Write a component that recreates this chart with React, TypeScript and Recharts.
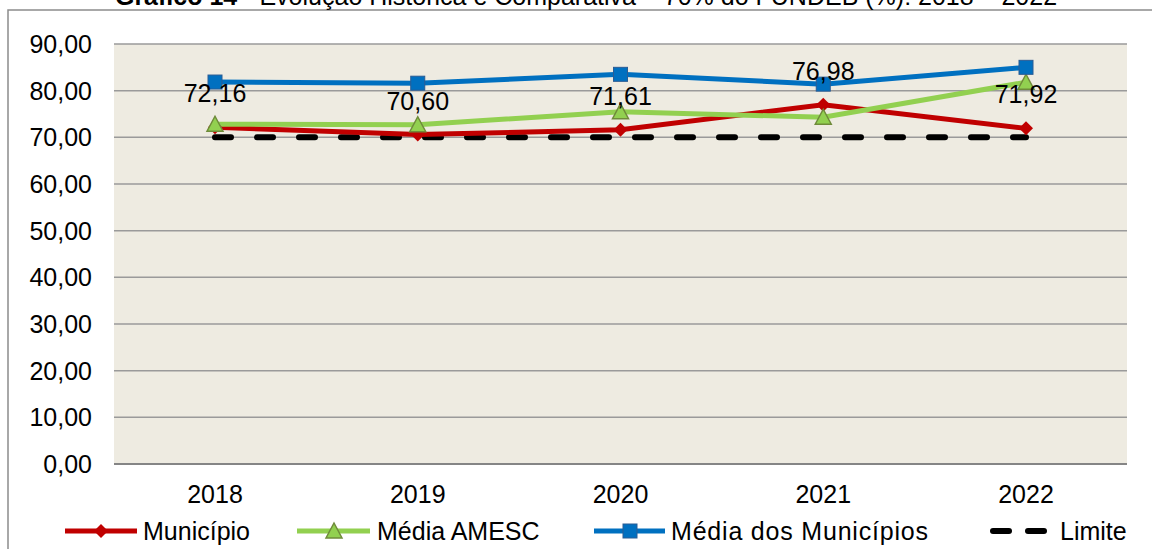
import { LineChart, Line, XAxis, YAxis, CartesianGrid, LabelList } from 'recharts';

const years = ['2018', '2019', '2020', '2021', '2022'];
const municipio = [72.16, 70.6, 71.61, 76.98, 71.92];
const mediaAmesc = [72.8, 72.7, 75.5, 74.3, 81.8];
const mediaMunicipios = [81.85, 81.6, 83.5, 81.4, 85.0];
const limite = [70, 70, 70, 70, 70];
const yTicks = [0, 10, 20, 30, 40, 50, 60, 70, 80, 90];

const data = years.map((year, i) => ({
  year,
  municipio: municipio[i],
  mediaAmesc: mediaAmesc[i],
  mediaMunicipios: mediaMunicipios[i],
  limite: limite[i]
}));

const FONT = '"Liberation Sans", Arial, sans-serif';
const RED = '#C00000';
const GREEN = '#92D050';
const GREEN_EDGE = '#6F8B3A';
const BLUE = '#0070C0';
const BLUE_EDGE = '#2A5C94';

const fmt = (v: number) => v.toFixed(2).replace('.', ',');

const Diamond = ({ cx, cy }: any) => (
  <path d={`M${cx},${cy - 7} L${cx + 7},${cy} L${cx},${cy + 7} L${cx - 7},${cy} Z`} fill={RED} />
);

const Triangle = ({ cx, cy }: any) => (
  <path
    d={`M${cx},${cy - 8} L${cx + 8},${cy + 7} L${cx - 8},${cy + 7} Z`}
    fill={GREEN}
    stroke={GREEN_EDGE}
    strokeWidth={1.5}
  />
);

const Square = ({ cx, cy }: any) => (
  <rect x={cx - 7} y={cy - 7} width={14} height={14} fill={BLUE} stroke={BLUE_EDGE} strokeWidth={1} />
);

const ValueLabel = ({ x, y, value }: any) => (
  <text x={x} y={y - 25} textAnchor="middle" fontSize={25} fontFamily={FONT} fill="#000">
    {fmt(value)}
  </text>
);

// frame, title (cut at the top as in the source) and legend
const Overlay = () => (
  <svg width={1152} height={549} style={{ position: 'absolute', left: 0, top: 0, pointerEvents: 'none' }}>
    <rect x={8} y={10} width={1150} height={560} fill="none" stroke="#8c8c8c" strokeWidth={1.5} />
    <text x={586} y={5} textAnchor="middle" fontSize={25} fontFamily={FONT} fill="#000">
      <tspan fontWeight="bold">Gráfico 14</tspan>
      <tspan> - Evolução Histórica e Comparativa – 70% do FUNDEB (%): 2018 – 2022</tspan>
    </text>
    <g fontSize={25} fontFamily={FONT} fill="#000">
      <line x1={65} y1={531} x2={137} y2={531} stroke={RED} strokeWidth={5} />
      <Diamond cx={101} cy={531} />
      <text x={143} y={540}>Município</text>

      <line x1={297} y1={531} x2={370} y2={531} stroke={GREEN} strokeWidth={5} />
      <Triangle cx={334} cy={531} />
      <text x={377} y={540}>Média AMESC</text>

      <line x1={594} y1={531} x2={665} y2={531} stroke={BLUE} strokeWidth={5} />
      <Square cx={630} cy={531} />
      <text x={671} y={540} textLength={257}>Média dos Municípios</text>

      <line x1={993} y1={531} x2={1009} y2={531} stroke="#000" strokeWidth={6} strokeLinecap="round" />
      <line x1={1028} y1={531} x2={1044} y2={531} stroke="#000" strokeWidth={6} strokeLinecap="round" />
      <text x={1060} y={540}>Limite</text>
    </g>
  </svg>
);

export default function App() {
  return (
    <div style={{ position: 'absolute', left: 0, top: 0, width: 1152, height: 549, background: '#fff', fontFamily: FONT }}>
      <LineChart width={1152} height={549} data={data} margin={{ top: 44, right: 25, left: 0, bottom: 45 }}>
        <CartesianGrid vertical={false} fill="#EEEBE1" stroke="#9a9a9a" strokeWidth={1.5} />
        <XAxis
          dataKey="year"
          padding={{ left: 101, right: 101 }}
          axisLine={{ stroke: '#858585', strokeWidth: 2 }}
          tickLine={false}
          tickSize={0}
          tickMargin={21}
          height={40}
          tick={{ fontSize: 25, fill: '#000', fontFamily: FONT }}
        />
        <YAxis
          domain={[0, 90]}
          ticks={yTicks}
          tickFormatter={fmt}
          width={114}
          axisLine={false}
          tickLine={false}
          tickSize={0}
          tickMargin={22}
          tick={{ fontSize: 25, fill: '#000', fontFamily: FONT }}
        />
        <Line
          dataKey="limite"
          stroke="#000"
          strokeWidth={6}
          strokeDasharray="16 26"
          strokeLinecap="round"
          dot={false}
          isAnimationActive={false}
        />
        <Line dataKey="municipio" stroke={RED} strokeWidth={5} dot={<Diamond />} isAnimationActive={false}>
          <LabelList dataKey="municipio" content={<ValueLabel />} />
        </Line>
        <Line dataKey="mediaAmesc" stroke={GREEN} strokeWidth={5} dot={<Triangle />} isAnimationActive={false} />
        <Line dataKey="mediaMunicipios" stroke={BLUE} strokeWidth={5} dot={<Square />} isAnimationActive={false} />
      </LineChart>
      <Overlay />
    </div>
  );
}
